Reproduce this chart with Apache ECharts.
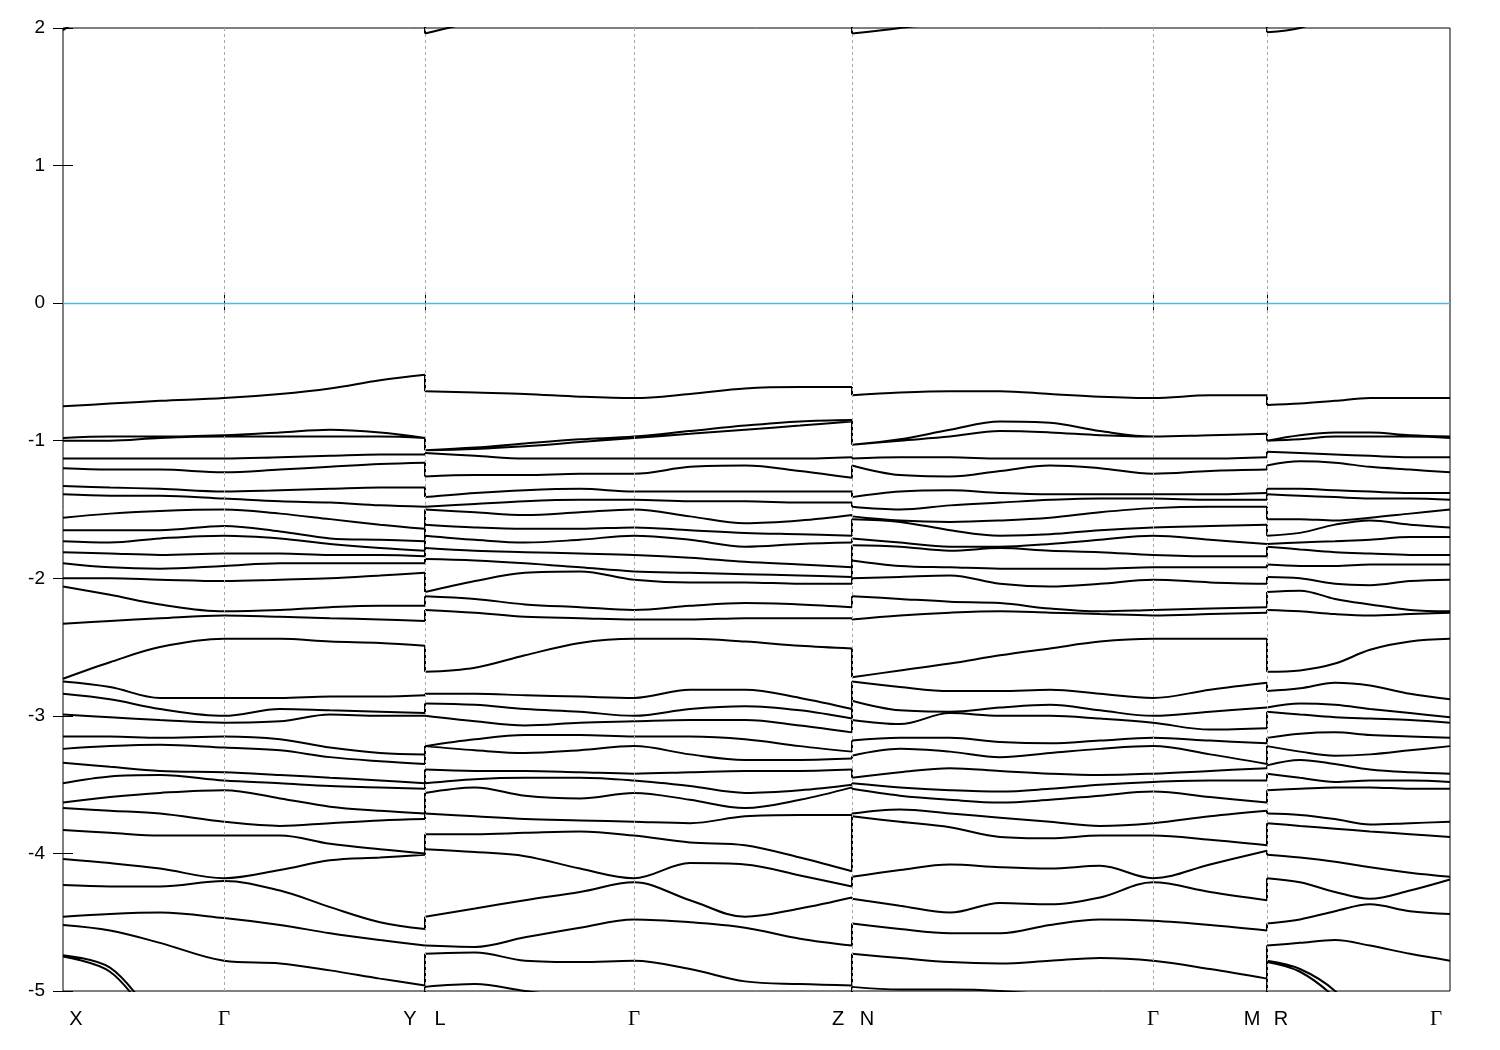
<!DOCTYPE html>
<html><head><meta charset="utf-8">
<script src="https://cdn.jsdelivr.net/npm/echarts@6/dist/echarts.min.js"></script>
<style>html,body{margin:0;padding:0;background:#fff}#c{width:1500px;height:1050px}</style>
</head><body><div id="c"></div>
<script>
// high-symmetry points along the k-path (path-length units)
const kPoints = [0, 161, 362, 571, 789, 1090, 1204, 1387];
const gridLinesK = [161, 362, 571, 789, 1090, 1204];
const tickLabels = ['X', 'Γ', 'Y', 'L', 'Γ', 'Z', 'N', 'Γ', 'M', 'R', 'Γ'];
const labelPos = [13, 161, 347, 377, 571, 775, 804, 1090, 1189, 1218, 1373];
const yTicks = [2, 1, 0, -1, -2, -3, -4, -5];

// segment 1: X - Γ - Y
const kSeg1 = [0, 47, 97, 161, 217, 267, 317, 362];
const bandsSeg1 = [
  [1.985, 2.2, 2.4, 2.5, 2.5, 2.5, 2.4, 2.3],
  [-0.75, -0.73, -0.71, -0.69, -0.66, -0.62, -0.56, -0.52],
  [-0.98, -0.97, -0.97, -0.96, -0.94, -0.92, -0.94, -0.98],
  [-1.00, -1.00, -0.98, -0.97, -0.97, -0.97, -0.97, -0.98],
  [-1.13, -1.13, -1.13, -1.13, -1.12, -1.11, -1.10, -1.10],
  [-1.20, -1.21, -1.21, -1.23, -1.21, -1.19, -1.17, -1.16],
  [-1.33, -1.34, -1.35, -1.37, -1.36, -1.35, -1.34, -1.34],
  [-1.39, -1.40, -1.40, -1.42, -1.44, -1.45, -1.47, -1.48],
  [-1.56, -1.53, -1.51, -1.50, -1.53, -1.57, -1.61, -1.64],
  [-1.65, -1.65, -1.65, -1.62, -1.66, -1.71, -1.72, -1.73],
  [-1.73, -1.74, -1.71, -1.69, -1.71, -1.75, -1.78, -1.80],
  [-1.81, -1.82, -1.83, -1.82, -1.82, -1.83, -1.83, -1.84],
  [-1.89, -1.92, -1.93, -1.91, -1.89, -1.89, -1.89, -1.89],
  [-2.00, -2.00, -2.01, -2.02, -2.01, -2.00, -1.98, -1.96],
  [-2.06, -2.12, -2.19, -2.24, -2.23, -2.21, -2.20, -2.20],
  [-2.33, -2.31, -2.29, -2.27, -2.28, -2.29, -2.30, -2.31],
  [-2.73, -2.61, -2.50, -2.44, -2.44, -2.46, -2.47, -2.49],
  [-2.75, -2.79, -2.87, -2.87, -2.87, -2.86, -2.86, -2.85],
  [-2.84, -2.88, -2.95, -3.00, -2.95, -2.96, -2.97, -2.98],
  [-2.99, -3.01, -3.03, -3.05, -3.04, -2.99, -3.00, -3.00],
  [-3.15, -3.15, -3.16, -3.15, -3.17, -3.23, -3.27, -3.28],
  [-3.24, -3.22, -3.21, -3.23, -3.25, -3.30, -3.33, -3.35],
  [-3.34, -3.37, -3.40, -3.41, -3.43, -3.45, -3.47, -3.49],
  [-3.49, -3.44, -3.43, -3.47, -3.49, -3.51, -3.52, -3.53],
  [-3.63, -3.59, -3.56, -3.54, -3.60, -3.66, -3.69, -3.71],
  [-3.67, -3.69, -3.71, -3.77, -3.80, -3.78, -3.76, -3.75],
  [-3.83, -3.85, -3.87, -3.87, -3.87, -3.93, -3.97, -4.00],
  [-4.04, -4.07, -4.11, -4.18, -4.12, -4.05, -4.03, -4.01],
  [-4.23, -4.24, -4.24, -4.20, -4.27, -4.39, -4.50, -4.55],
  [-4.46, -4.44, -4.43, -4.47, -4.52, -4.58, -4.63, -4.67],
  [-4.52, -4.56, -4.65, -4.78, -4.80, -4.85, -4.91, -4.96],
  [-4.74, -4.83, -5.20, -5.40, -5.50, -5.50, -5.40, -5.30],
  [-4.75, -4.86, -5.25, -5.50, -5.60, -5.60, -5.50, -5.40]
];

// segment 2: L - Γ - Z
const kSeg2 = [362, 412, 462, 517, 571, 627, 682, 737, 789];
const bandsSeg2 = [
  [1.96, 2.05, 2.15, 2.25, 2.3, 2.3, 2.25, 2.2, 2.1],
  [-0.64, -0.65, -0.66, -0.68, -0.69, -0.66, -0.62, -0.61, -0.61],
  [-1.07, -1.05, -1.02, -0.99, -0.97, -0.93, -0.89, -0.86, -0.85],
  [-1.07, -1.06, -1.04, -1.01, -0.98, -0.95, -0.92, -0.89, -0.86],
  [-1.09, -1.11, -1.13, -1.13, -1.13, -1.13, -1.13, -1.13, -1.12],
  [-1.26, -1.25, -1.25, -1.24, -1.24, -1.19, -1.18, -1.22, -1.27],
  [-1.41, -1.38, -1.36, -1.35, -1.37, -1.37, -1.37, -1.37, -1.37],
  [-1.48, -1.46, -1.44, -1.43, -1.43, -1.44, -1.44, -1.45, -1.45],
  [-1.50, -1.52, -1.54, -1.52, -1.50, -1.55, -1.60, -1.58, -1.54],
  [-1.61, -1.63, -1.64, -1.64, -1.63, -1.65, -1.67, -1.68, -1.69],
  [-1.69, -1.72, -1.74, -1.72, -1.69, -1.72, -1.77, -1.75, -1.74],
  [-1.78, -1.80, -1.81, -1.82, -1.83, -1.85, -1.88, -1.90, -1.92],
  [-1.86, -1.87, -1.89, -1.92, -1.95, -1.96, -1.97, -1.98, -1.99],
  [-2.10, -2.02, -1.96, -1.95, -2.01, -2.03, -2.03, -2.04, -2.04],
  [-2.13, -2.15, -2.19, -2.21, -2.23, -2.20, -2.18, -2.19, -2.21],
  [-2.23, -2.25, -2.28, -2.29, -2.30, -2.30, -2.29, -2.29, -2.29],
  [-2.68, -2.65, -2.56, -2.47, -2.44, -2.44, -2.46, -2.49, -2.51],
  [-2.84, -2.84, -2.85, -2.86, -2.87, -2.81, -2.81, -2.87, -2.95],
  [-2.91, -2.92, -2.95, -2.97, -3.00, -2.95, -2.93, -2.96, -3.02],
  [-3.00, -3.04, -3.07, -3.05, -3.04, -3.03, -3.03, -3.07, -3.12],
  [-3.22, -3.17, -3.14, -3.14, -3.15, -3.15, -3.17, -3.22, -3.26],
  [-3.22, -3.25, -3.27, -3.25, -3.22, -3.28, -3.32, -3.32, -3.31],
  [-3.39, -3.40, -3.40, -3.41, -3.42, -3.41, -3.40, -3.40, -3.39],
  [-3.49, -3.46, -3.45, -3.45, -3.47, -3.51, -3.56, -3.54, -3.50],
  [-3.56, -3.52, -3.58, -3.60, -3.56, -3.61, -3.67, -3.61, -3.52],
  [-3.71, -3.73, -3.75, -3.76, -3.77, -3.78, -3.73, -3.72, -3.72],
  [-3.86, -3.86, -3.85, -3.84, -3.87, -3.92, -3.94, -4.03, -4.13],
  [-3.97, -3.99, -4.02, -4.11, -4.18, -4.07, -4.08, -4.16, -4.24],
  [-4.46, -4.40, -4.34, -4.28, -4.21, -4.34, -4.46, -4.40, -4.32],
  [-4.67, -4.68, -4.61, -4.54, -4.48, -4.50, -4.54, -4.62, -4.67],
  [-4.73, -4.72, -4.78, -4.79, -4.78, -4.84, -4.93, -4.95, -4.96],
  [-4.97, -4.95, -5.00, -5.05, -5.08, -5.08, -5.05, -5.03, -5.02],
  [-5.10, -5.10, -5.15, -5.20, -5.20, -5.20, -5.20, -5.15, -5.10]
];

// segment 3: N - Γ - M
const kSeg3 = [789, 837, 887, 937, 987, 1037, 1090, 1147, 1204];
const bandsSeg3 = [
  [1.96, 2.0, 2.05, 2.15, 2.25, 2.3, 2.3, 2.2, 2.1],
  [-0.67, -0.65, -0.64, -0.64, -0.66, -0.68, -0.69, -0.67, -0.67],
  [-1.03, -0.99, -0.92, -0.86, -0.87, -0.93, -0.97, -0.96, -0.95],
  [-1.03, -1.00, -0.97, -0.93, -0.94, -0.96, -0.97, -0.96, -0.95],
  [-1.13, -1.12, -1.12, -1.13, -1.13, -1.13, -1.13, -1.13, -1.12],
  [-1.18, -1.25, -1.26, -1.22, -1.18, -1.20, -1.24, -1.22, -1.21],
  [-1.41, -1.37, -1.36, -1.38, -1.39, -1.39, -1.39, -1.39, -1.38],
  [-1.48, -1.50, -1.47, -1.45, -1.43, -1.42, -1.42, -1.43, -1.43],
  [-1.55, -1.58, -1.59, -1.58, -1.56, -1.52, -1.49, -1.48, -1.48],
  [-1.57, -1.59, -1.65, -1.69, -1.68, -1.65, -1.63, -1.62, -1.61],
  [-1.71, -1.74, -1.77, -1.77, -1.75, -1.72, -1.69, -1.72, -1.75],
  [-1.76, -1.77, -1.80, -1.78, -1.80, -1.81, -1.83, -1.84, -1.84],
  [-1.87, -1.91, -1.92, -1.93, -1.93, -1.93, -1.92, -1.92, -1.92],
  [-2.00, -1.99, -1.98, -2.04, -2.06, -2.04, -2.01, -2.03, -2.04],
  [-2.13, -2.15, -2.17, -2.18, -2.22, -2.24, -2.23, -2.22, -2.21],
  [-2.30, -2.27, -2.25, -2.24, -2.25, -2.26, -2.27, -2.26, -2.25],
  [-2.72, -2.67, -2.62, -2.56, -2.51, -2.46, -2.44, -2.44, -2.44],
  [-2.75, -2.79, -2.82, -2.82, -2.81, -2.84, -2.87, -2.81, -2.76],
  [-2.89, -2.96, -2.97, -2.94, -2.92, -2.96, -3.00, -2.97, -2.94],
  [-3.03, -3.06, -2.98, -3.00, -3.00, -3.02, -3.05, -3.10, -3.09],
  [-3.18, -3.16, -3.16, -3.19, -3.20, -3.18, -3.16, -3.18, -3.20],
  [-3.29, -3.24, -3.26, -3.30, -3.27, -3.24, -3.22, -3.28, -3.35],
  [-3.45, -3.41, -3.38, -3.40, -3.42, -3.43, -3.42, -3.40, -3.38],
  [-3.49, -3.52, -3.54, -3.55, -3.53, -3.50, -3.48, -3.47, -3.47],
  [-3.53, -3.58, -3.61, -3.63, -3.61, -3.58, -3.55, -3.59, -3.63],
  [-3.71, -3.68, -3.71, -3.74, -3.77, -3.80, -3.78, -3.73, -3.69],
  [-3.73, -3.77, -3.81, -3.88, -3.89, -3.87, -3.87, -3.90, -3.94],
  [-4.17, -4.12, -4.08, -4.10, -4.11, -4.09, -4.18, -4.08, -3.98],
  [-4.33, -4.38, -4.43, -4.36, -4.37, -4.32, -4.21, -4.28, -4.34],
  [-4.51, -4.55, -4.58, -4.58, -4.52, -4.48, -4.49, -4.52, -4.56],
  [-4.73, -4.76, -4.79, -4.80, -4.78, -4.76, -4.78, -4.84, -4.91],
  [-4.97, -4.99, -4.99, -5.00, -5.03, -5.08, -5.10, -5.10, -5.10],
  [-5.20, -5.20, -5.20, -5.20, -5.20, -5.20, -5.20, -5.20, -5.20]
];

// segment 4: R - Γ
const kSeg4 = [1204, 1237, 1272, 1307, 1347, 1387];
const bandsSeg4 = [
  [1.97, 2.0, 2.1, 2.2, 2.3, 2.3],
  [-0.74, -0.73, -0.71, -0.69, -0.69, -0.69],
  [-1.00, -0.96, -0.94, -0.94, -0.96, -0.97],
  [-1.00, -0.99, -0.97, -0.97, -0.97, -0.98],
  [-1.08, -1.09, -1.10, -1.11, -1.12, -1.12],
  [-1.18, -1.15, -1.16, -1.19, -1.21, -1.23],
  [-1.35, -1.35, -1.36, -1.37, -1.38, -1.38],
  [-1.39, -1.40, -1.41, -1.42, -1.42, -1.43],
  [-1.57, -1.57, -1.58, -1.56, -1.53, -1.50],
  [-1.69, -1.67, -1.61, -1.58, -1.61, -1.63],
  [-1.75, -1.74, -1.73, -1.72, -1.70, -1.70],
  [-1.77, -1.79, -1.81, -1.82, -1.83, -1.83],
  [-1.90, -1.91, -1.91, -1.90, -1.90, -1.90],
  [-1.99, -2.00, -2.04, -2.05, -2.02, -2.01],
  [-2.10, -2.09, -2.15, -2.19, -2.23, -2.24],
  [-2.23, -2.24, -2.26, -2.27, -2.26, -2.25],
  [-2.68, -2.67, -2.62, -2.52, -2.46, -2.44],
  [-2.82, -2.80, -2.76, -2.78, -2.84, -2.88],
  [-2.94, -2.91, -2.92, -2.95, -2.98, -3.01],
  [-2.97, -2.99, -3.01, -3.02, -3.03, -3.05],
  [-3.16, -3.13, -3.12, -3.14, -3.15, -3.16],
  [-3.22, -3.26, -3.29, -3.28, -3.25, -3.22],
  [-3.36, -3.32, -3.35, -3.39, -3.41, -3.42],
  [-3.42, -3.45, -3.48, -3.47, -3.47, -3.48],
  [-3.54, -3.53, -3.52, -3.52, -3.53, -3.53],
  [-3.71, -3.72, -3.75, -3.79, -3.78, -3.77],
  [-3.78, -3.80, -3.82, -3.84, -3.86, -3.88],
  [-4.01, -4.03, -4.06, -4.10, -4.14, -4.17],
  [-4.18, -4.21, -4.28, -4.33, -4.27, -4.19],
  [-4.51, -4.48, -4.42, -4.37, -4.42, -4.44],
  [-4.67, -4.65, -4.63, -4.67, -4.73, -4.78],
  [-4.78, -4.84, -5.00, -5.30, -5.50, -5.60],
  [-4.79, -4.86, -5.05, -5.35, -5.55, -5.65]
];

const segK = [kSeg1, kSeg2, kSeg3, kSeg4];
const segBands = [bandsSeg1, bandsSeg2, bandsSeg3, bandsSeg4];

const lineStyle = { color: '#000', width: 2 };
const series = [];

// reference lines: Fermi level and high-symmetry verticals
series.push({
  type: 'line', data: [], silent: true,
  markLine: {
    silent: true, symbol: 'none', label: { show: false }, animation: false,
    data: [{ yAxis: 0, lineStyle: { color: '#56b4e9', width: 1.3, type: 'solid' } }]
      .concat(gridLinesK.map(x => ({ xAxis: x, lineStyle: { color: '#a8a8a8', width: 1, type: [3, 3] } })))
  }
});

segK.forEach((ks, s) => {
  const data = [];
  segBands[s].forEach(b => {
    b.forEach((v, i) => data.push([ks[i], v]));
    data.push([ks[ks.length - 1], '-']);
  });
  series.push({ type: 'line', data, smooth: 0.35, showSymbol: false, lineStyle, silent: true, z: 3 });
});

// vertical jumps at path discontinuities
const jumps = [];
for (let s = 0; s < segK.length - 1; s++) {
  const xb = segK[s][segK[s].length - 1];
  const A = segBands[s], B = segBands[s + 1];
  for (let b = 0; b < A.length; b++) {
    jumps.push([xb, A[b][A[b].length - 1]], [xb, B[b][0]], [xb, '-']);
  }
}
series.push({ type: 'line', data: jumps, showSymbol: false, lineStyle, silent: true, z: 3 });

const chart = echarts.init(document.getElementById('c'), null, { renderer: 'canvas' });
const tickStyle = { show: true, inside: true, length: 10, lineStyle: { color: '#000', width: 1 } };
chart.setOption({
  animation: false,
  backgroundColor: '#fff',
  grid: { left: 63, right: 50, top: 28, bottom: 59, show: true, borderColor: '#000', borderWidth: 1, backgroundColor: 'transparent' },
  xAxis: [{
    type: 'value', min: 0, max: 1387, position: 'bottom',
    axisLine: { show: false }, splitLine: { show: false },
    axisTick: Object.assign({ customValues: kPoints.slice(1, -1) }, tickStyle),
    axisLabel: {
      customValues: labelPos, margin: 18, color: '#000', fontFamily: 'Liberation Sans', fontSize: 20,
      formatter: v => { const t = tickLabels[labelPos.indexOf(v)]; return t === 'Γ' ? '{g|Γ}' : t; },
      rich: { g: { fontFamily: 'Liberation Serif', fontSize: 21, color: '#000' } }
    }
  }, {
    type: 'value', min: 0, max: 1387, position: 'top',
    axisLine: { show: false }, splitLine: { show: false }, axisLabel: { show: false },
    axisTick: Object.assign({ customValues: kPoints.slice(1, -1) }, tickStyle)
  }],
  yAxis: [{
    type: 'value', min: -5, max: 2, interval: 1, position: 'left',
    axisLine: { show: false }, splitLine: { show: false }, axisTick: tickStyle,
    axisLabel: { margin: 18, color: '#000', fontFamily: 'Liberation Sans', fontSize: 19,
      customValues: yTicks, formatter: v => String(v) }
  }, {
    type: 'value', min: -5, max: 2, interval: 1, position: 'right',
    axisLine: { show: false }, splitLine: { show: false }, axisTick: tickStyle, axisLabel: { show: false }
  }],
  series
});
</script>
</body></html>
